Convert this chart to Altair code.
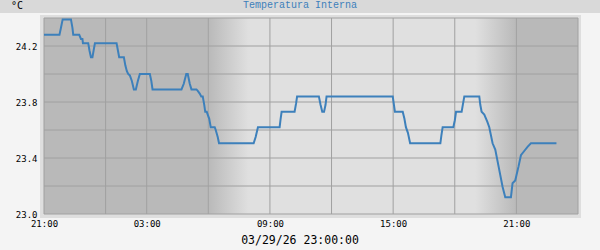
import json
import altair as alt
import pandas as pd

# ---------------- data ----------------
# hours since left edge of the plot (left edge labelled "21:00")
hours = [0, 0.753, 0.826, 0.909, 1.312, 1.385, 1.424, 1.716, 1.799, 1.871, 1.896, 2.153,
         2.212, 2.285, 2.358, 2.430, 2.479, 3.534, 3.597, 3.660, 3.889, 3.962, 4.035, 4.098,
         4.180, 4.278, 4.375, 4.472, 4.569, 4.667, 5.153, 5.226, 5.284, 6.694, 6.805, 6.927,
         7.000, 7.097, 7.180, 7.423, 7.486, 7.583, 7.656, 7.729, 7.802, 7.851, 7.924, 7.972,
         8.045, 8.118, 8.312, 8.361, 8.458, 8.521, 10.208, 10.305, 10.417, 11.472, 11.521,
         11.569, 12.201, 12.274, 12.323, 13.383, 13.465, 13.548, 13.635, 13.708, 13.757,
         16.980, 17.038, 17.087, 17.466, 17.549, 17.621, 17.719, 17.826, 19.299, 19.347,
         19.410, 19.930, 20.003, 20.061, 20.334, 20.392, 20.465, 21.194, 21.243, 21.306,
         21.437, 21.583, 21.680, 21.841, 21.972, 22.133, 22.327, 22.458, 22.735, 22.813,
         22.944, 23.105, 23.221, 23.382, 23.542, 23.708, 24.951]
temps = [24.28, 24.28, 24.33, 24.39, 24.39, 24.33, 24.28, 24.28, 24.25, 24.25, 24.22, 24.22,
         24.17, 24.12, 24.12, 24.18, 24.22, 24.22, 24.17, 24.12, 24.12, 24.06, 24.02, 24.00,
         23.99, 23.95, 23.89, 23.89, 23.95, 24.00, 24.00, 23.95, 23.89, 23.89, 23.93, 24.00,
         24.00, 23.93, 23.89, 23.89, 23.88, 23.86, 23.84, 23.84, 23.78, 23.73, 23.73, 23.71,
         23.68, 23.62, 23.62, 23.60, 23.55, 23.505, 23.505, 23.55, 23.62, 23.62, 23.68,
         23.73, 23.73, 23.79, 23.84, 23.84, 23.78, 23.73, 23.73, 23.78, 23.84,
         23.84, 23.78, 23.73, 23.73, 23.68, 23.62, 23.58, 23.505, 23.505, 23.56,
         23.62, 23.62, 23.67, 23.73, 23.73, 23.78, 23.84, 23.84, 23.78, 23.73,
         23.71, 23.66, 23.62, 23.505, 23.46, 23.34, 23.195, 23.12, 23.12, 23.22,
         23.24, 23.34, 23.42, 23.45, 23.48, 23.505, 23.505]

x_domain = [0, 26]
y_domain = [23.0, 24.4]

x_tick_hours = [0, 5, 11, 17, 23]
x_tick_labels = ["21:00", "03:00", "09:00", "15:00", "21:00"]
y_tick_values = [23.0, 23.4, 23.8, 24.2]

v_grid = [0, 3, 5, 8, 11, 14, 17, 20, 23, 26]
h_grid = [23.0, 23.2, 23.4, 23.6, 23.8, 24.0, 24.2, 24.4]

solid_start = [0, 10, 23]
solid_end = [8, 21, 26]
solid_kind = ["night", "day", "night"]
dawn = [8, 10]
dusk = [21, 23]

title_text = "Temperatura Interna"
unit_text = "°C"
date_text = "03/29/26 23:00:00"

# ---------------- style ----------------
W, H = 534, 196
NIGHT = "#b9b9b9"
DAY = "#e0e0e0"
GRID = "#a0a0a0"
BLUE = "#3d80bb"
MONO = "DejaVu Sans Mono"

xs = alt.Scale(domain=x_domain, nice=False, zero=False)
ys = alt.Scale(domain=y_domain, nice=False, zero=False)

label_expr = "{}[indexof({}, datum.value)]".format(json.dumps(x_tick_labels), json.dumps(x_tick_hours))
x_axis = alt.Axis(values=x_tick_hours, labelExpr=label_expr, grid=False, ticks=False, domain=False,
                  labelFont=MONO, labelFontSize=9, labelColor="#000000", labelPadding=5,
                  labelFlush=False, labelOverlap=False, labelAngle=0, title=None)
y_axis = alt.Axis(values=y_tick_values, format=".1f", grid=False, ticks=False, domain=False,
                  labelFont=MONO, labelFontSize=9, labelColor="#000000", labelPadding=7,
                  labelOverlap=False, title=None)

one = pd.DataFrame({"a": [0]})

top_band = alt.Chart(one).mark_rect(color="#d9d9d9").encode(
    x=alt.value(-44), x2=alt.value(556), y=alt.value(-18), y2=alt.value(-5))
frame = alt.Chart(one).mark_rect(color="#dedede").encode(
    x=alt.value(-4), x2=alt.value(537), y=alt.value(-3), y2=alt.value(200))

solid_df = pd.DataFrame({"s": solid_start, "e": solid_end, "k": solid_kind})
solid = alt.Chart(solid_df).mark_rect().encode(
    x=alt.X("s:Q", scale=xs, axis=x_axis), x2="e:Q",
    y=alt.Y("lo:Q", scale=ys, axis=y_axis), y2="hi:Q",
    color=alt.Color("k:N", scale=alt.Scale(domain=["night", "day"], range=[NIGHT, DAY]), legend=None),
).transform_calculate(lo=str(y_domain[0]), hi=str(y_domain[1]))


def grad(c0, c1):
    return {"gradient": "linear", "x1": 0, "x2": 1, "y1": 0, "y2": 0,
            "stops": [{"offset": 0, "color": c0}, {"offset": 1, "color": c1}]}


dawn_df = pd.DataFrame({"s": [dawn[0]], "e": [dawn[1]]})
dusk_df = pd.DataFrame({"s": [dusk[0]], "e": [dusk[1]]})
dawn_rect = alt.Chart(dawn_df).mark_rect(fill=grad(NIGHT, DAY)).encode(
    x=alt.X("s:Q", scale=xs), x2="e:Q", y=alt.value(0), y2=alt.value(H))
dusk_rect = alt.Chart(dusk_df).mark_rect(fill=grad(DAY, NIGHT)).encode(
    x=alt.X("s:Q", scale=xs), x2="e:Q", y=alt.value(0), y2=alt.value(H))

vgrid = alt.Chart(pd.DataFrame({"s": v_grid})).mark_rule(color=GRID, strokeWidth=1).encode(
    x=alt.X("s:Q", scale=xs))
hgrid = alt.Chart(pd.DataFrame({"lo": h_grid})).mark_rule(color=GRID, strokeWidth=1).encode(
    y=alt.Y("lo:Q", scale=ys))

line = alt.Chart(pd.DataFrame({"s": hours, "lo": temps})).mark_line(
    color=BLUE, strokeWidth=2).encode(
    x=alt.X("s:Q", scale=xs), y=alt.Y("lo:Q", scale=ys))

title = alt.Chart(pd.DataFrame({"t": [title_text]})).mark_text(
    font="Liberation Mono", fontSize=10, color=BLUE, align="center", baseline="middle").encode(
    text="t:N", x=alt.value(256), y=alt.value(-13))
unit = alt.Chart(pd.DataFrame({"t": [unit_text]})).mark_text(
    font=MONO, fontSize=10, color="#000000", align="left", baseline="middle").encode(
    text="t:N", x=alt.value(-33), y=alt.value(-12))
date = alt.Chart(pd.DataFrame({"t": [date_text]})).mark_text(
    font=MONO, fontSize=11.5, color="#000000", align="center",
    baseline="middle").encode(
    text="t:N", x=alt.value(256), y=alt.value(223))

chart = alt.layer(top_band, frame, solid, dawn_rect, dusk_rect, vgrid, hgrid, line,
                  title, unit, date).properties(
    width=W, height=H,
    autosize=alt.AutoSizeParams(type="none"),
    padding={"left": 44, "top": 18, "right": 22, "bottom": 36},
    background="#f4f4f4",
).configure_view(stroke=None)

chart.save("out.html", embed_options={"renderer": "svg", "actions": False})
